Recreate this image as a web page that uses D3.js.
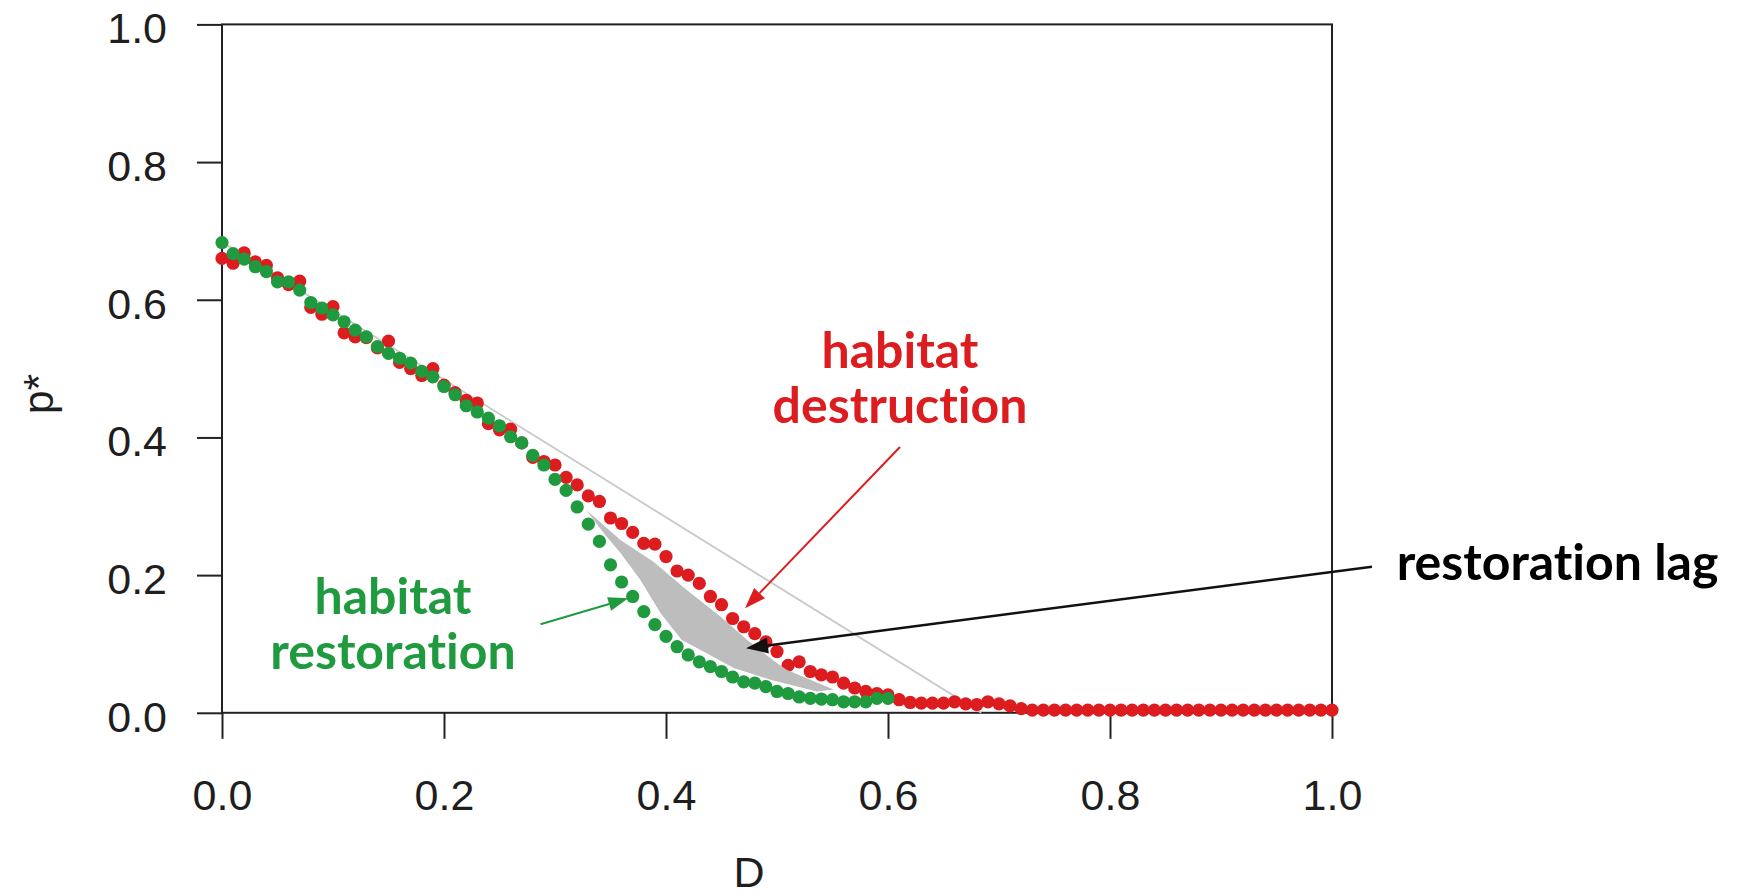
<!DOCTYPE html>
<html>
<head>
<meta charset="utf-8">
<script src="https://cdn.jsdelivr.net/npm/d3@7"></script>
<style>
  html, body { margin: 0; padding: 0; background: #ffffff; }
  svg { display: block; }
  text { font-variant-ligatures: none; font-feature-settings: "liga" 0, "clig" 0; }
</style>
</head>
<body>
<script>
// ---------------- data ----------------
const xTicks = [0.0, 0.2, 0.4, 0.6, 0.8, 1.0];
const yTicks = [0.0, 0.2, 0.4, 0.6, 0.8, 1.0];
const xTitle = "D";
const yTitle = "p*";

// D values (step 0.01)
const destructionD = d3.range(0, 101).map(i => i / 100);
const destructionP = [
  0.660, 0.653, 0.668, 0.655, 0.650, 0.632, 0.622, 0.627, 0.589, 0.579,
  0.590, 0.552, 0.546, 0.545, 0.530, 0.540, 0.509, 0.500, 0.490, 0.500,
  0.476, 0.465, 0.454, 0.450, 0.420, 0.411, 0.412, 0.392, 0.371, 0.365,
  0.360, 0.342, 0.331, 0.315, 0.307, 0.283, 0.275, 0.262, 0.246, 0.245,
  0.227, 0.206, 0.200, 0.188, 0.169, 0.157, 0.137, 0.125, 0.115, 0.103,
  0.089, 0.069, 0.074, 0.060, 0.055, 0.052, 0.043, 0.036, 0.031, 0.028,
  0.026, 0.019, 0.015, 0.014, 0.014, 0.014, 0.016, 0.013, 0.012, 0.016,
  0.013, 0.010, 0.006, 0.004, 0.004, 0.004, 0.004, 0.004, 0.004, 0.004,
  0.004, 0.004, 0.004, 0.004, 0.004, 0.004, 0.004, 0.004, 0.004, 0.004,
  0.004, 0.004, 0.004, 0.004, 0.004, 0.004, 0.004, 0.004, 0.004, 0.004,
  0.004
];

const restorationD = d3.range(0, 61).map(i => i / 100);
const restorationP = [
  0.683, 0.667, 0.659, 0.648, 0.641, 0.626, 0.626, 0.614, 0.596, 0.588,
  0.578, 0.568, 0.556, 0.546, 0.532, 0.522, 0.515, 0.508, 0.496, 0.488,
  0.474, 0.462, 0.446, 0.437, 0.428, 0.417, 0.401, 0.392, 0.374, 0.360,
  0.339, 0.323, 0.299, 0.274, 0.249, 0.215, 0.190, 0.169, 0.147, 0.128,
  0.111, 0.096, 0.084, 0.074, 0.067, 0.060, 0.052, 0.045, 0.043, 0.038,
  0.031, 0.028, 0.023, 0.021, 0.020, 0.019, 0.016, 0.016, 0.016, 0.021,
  0.021
];

// theoretical straight line
const theoryD = [0.0, 0.684];
const theoryP = [0.684, 0.0];

// "restoration lag" shaded region (data units)
const lagD = [0.328, 0.359, 0.389, 0.419, 0.449, 0.473, 0.500, 0.509, 0.551,
              0.536, 0.494, 0.461, 0.414, 0.395, 0.377, 0.359, 0.344];
const lagP = [0.295, 0.251, 0.219, 0.178, 0.140, 0.106, 0.072, 0.062, 0.034,
              0.031, 0.048, 0.065, 0.106, 0.145, 0.193, 0.232, 0.261];

// annotation texts
const destructionLabel = ["habitat", "destruction"];
const restorationLabel = ["habitat", "restoration"];
const lagLabel = "restoration lag";

// ---------------- layout ----------------
const W = 1741, H = 895;
const plotL = 222, plotR = 1332, plotT = 24.4, plotB = 712.8;
const RED = "#dc1c1e", GREEN = "#1f9a3e";

const svg = d3.select("body").append("svg")
  .attr("width", W).attr("height", H)
  .style("background", "#fff");

const x = d3.scaleLinear().domain([0, 1]).range([plotL, plotR]);
const y = d3.scaleLinear().domain([0, 1]).range([plotB, plotT]);

const axisFont = "'Liberation Sans', Arial, Helvetica, sans-serif";
const annFont = "Lato, 'Open Sans', sans-serif";

// x axis
const gx = svg.append("g")
  .attr("transform", `translate(0,${plotB})`)
  .call(d3.axisBottom(x).tickValues(xTicks).tickFormat(d3.format(".1f"))
        .tickSize(26).tickPadding(41));
gx.select(".domain").remove();
gx.selectAll(".tick line").attr("stroke", "#222").attr("stroke-width", 2);
gx.selectAll(".tick text").attr("font-family", axisFont).attr("font-size", 43)
  .attr("fill", "#1e1e1e");

// y axis
const gy = svg.append("g")
  .attr("transform", `translate(${plotL},0)`)
  .call(d3.axisLeft(y).tickValues(yTicks).tickFormat(d3.format(".1f"))
        .tickSize(25).tickPadding(30));
gy.select(".domain").remove();
gy.selectAll(".tick line").attr("stroke", "#222").attr("stroke-width", 2);
gy.selectAll(".tick text").attr("font-family", axisFont).attr("font-size", 43)
  .attr("fill", "#1e1e1e").attr("dy", "0.43em");

// frame
svg.append("rect")
  .attr("x", x(0)).attr("y", y(1))
  .attr("width", x(1) - x(0)).attr("height", y(0) - y(1))
  .attr("fill", "none").attr("stroke", "#222").attr("stroke-width", 2);

// axis titles
svg.append("text")
  .attr("x", 749).attr("y", 887)
  .attr("text-anchor", "middle")
  .attr("font-family", axisFont).attr("font-size", 43).attr("fill", "#1e1e1e")
  .text(xTitle);
svg.append("text")
  .attr("transform", "translate(53,394) rotate(-90)")
  .attr("text-anchor", "middle")
  .attr("font-family", axisFont).attr("font-size", 43).attr("fill", "#1e1e1e")
  .text(yTitle);

// theory line
svg.append("path")
  .datum(theoryD.map((d, i) => [d, theoryP[i]]))
  .attr("d", d3.line().x(d => x(d[0])).y(d => y(d[1])))
  .attr("fill", "none").attr("stroke", "#c8c8c8").attr("stroke-width", 1.8);

// points
const R = 6.6;
svg.append("g").selectAll("circle")
  .data(destructionD.map((d, i) => [d, destructionP[i]]))
  .join("circle")
  .attr("cx", d => x(d[0])).attr("cy", d => y(d[1])).attr("r", R)
  .attr("fill", RED);
svg.append("g").selectAll("circle")
  .data(restorationD.map((d, i) => [d, restorationP[i]]))
  .join("circle")
  .attr("cx", d => x(d[0])).attr("cy", d => y(d[1])).attr("r", R)
  .attr("fill", GREEN);

// lag polygon
svg.append("path")
  .datum(lagD.map((d, i) => [d, lagP[i]]))
  .attr("d", d3.line().x(d => x(d[0])).y(d => y(d[1])).curve(d3.curveLinearClosed))
  .attr("fill", "#bdbdbd").attr("stroke", "none");

// arrows
function arrow(x1, y1, x2, y2, color, width, headLen, headHalf) {
  const ang = Math.atan2(y2 - y1, x2 - x1);
  const bx = x2 - headLen * Math.cos(ang), by = y2 - headLen * Math.sin(ang);
  svg.append("line").attr("x1", x1).attr("y1", y1).attr("x2", bx).attr("y2", by)
    .attr("stroke", color).attr("stroke-width", width);
  const px = -Math.sin(ang), py = Math.cos(ang);
  svg.append("path")
    .attr("d", `M${x2},${y2}L${bx + px * headHalf},${by + py * headHalf}L${bx - px * headHalf},${by - py * headHalf}Z`)
    .attr("fill", color);
}
arrow(900, 447, 745, 608.3, RED, 2, 21, 7.5);
arrow(1372, 566.7, 746, 648.3, "#111", 2.5, 22, 8);
arrow(540.5, 624.3, 628.3, 598.3, GREEN, 2, 20, 7);

// annotation texts
function label(lines, cx, baselines, color) {
  lines.forEach((t, i) => {
    svg.append("text")
      .attr("x", cx).attr("y", baselines[i])
      .attr("text-anchor", "middle")
      .attr("font-family", annFont).attr("font-weight", 700)
      .attr("font-size", 50).attr("fill", color)
      .text(t);
  });
}
label(destructionLabel, 900, [367.5, 423], RED);
label(restorationLabel, 393, [614, 669], GREEN);
svg.append("text")
  .attr("x", 1396.7).attr("y", 580)
  .attr("font-family", annFont).attr("font-weight", 700)
  .attr("font-size", 50).attr("fill", "#000")
  .text(lagLabel);
</script>
</body>
</html>
